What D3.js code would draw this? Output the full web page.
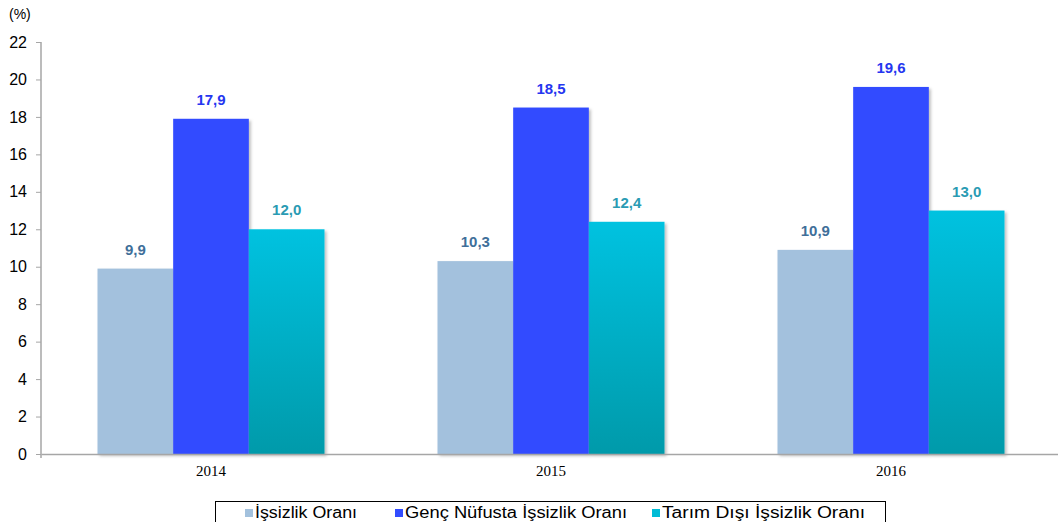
<!DOCTYPE html>
<html lang="tr">
<head>
<meta charset="UTF-8">
<title>İşsizlik Oranları</title>
<script src="https://d3js.org/d3.v7.min.js"></script>
<style>
  * { margin: 0; padding: 0; }
  body { background: #fff; }
</style>
</head>
<body>
<script>
var years = ["2014", "2015", "2016"];
var seriesNames = ["İşsizlik Oranı", "Genç Nüfusta İşsizlik Oranı", "Tarım Dışı İşsizlik Oranı"];
var issizlik = [9.9, 10.3, 10.9];
var genc = [17.9, 18.5, 19.6];
var tarimDisi = [12.0, 12.4, 13.0];
var yTicks = [0, 2, 4, 6, 8, 10, 12, 14, 16, 18, 20, 22];

var seriesValues = [issizlik, genc, tarimDisi];
var barColors = ["#a3c1dd", "#324cff", "url(#cyanGrad)"];
var legendColors = ["#a3c1dd", "#324cff", "#00bcd6"];
var labelColors = ["#3f6f9a", "#2536f0", "#2a9bb3"];

var sans = "'Liberation Sans', Arial, sans-serif";
var serif = "'Liberation Serif', 'Times New Roman', serif";

var width = 1058, height = 522;
var svg = d3.select("body").append("svg")
    .attr("width", width)
    .attr("height", height)
    .style("font-family", sans);

var defs = svg.append("defs");
var grad = defs.append("linearGradient")
    .attr("id", "cyanGrad")
    .attr("x1", 0).attr("y1", 0).attr("x2", 0).attr("y2", 1);
grad.append("stop").attr("offset", "0%").attr("stop-color", "#00c2e0");
grad.append("stop").attr("offset", "100%").attr("stop-color", "#009aaa");

var shadow = defs.append("filter").attr("id", "shadow")
    .attr("x", "-10%").attr("y", "-10%").attr("width", "130%").attr("height", "130%");
shadow.append("feDropShadow")
    .attr("dx", 2).attr("dy", 2).attr("stdDeviation", 1.5)
    .attr("flood-color", "#000").attr("flood-opacity", 0.25);

var x0 = 41, x1 = 1061, yBottom = 454, yTop = 42;

var x = d3.scaleBand().domain(years).range([x0, x1]).paddingInner(0).paddingOuter(0);
var xInner = d3.scaleBand().domain(d3.range(3)).range([0, 227]);
var groupOffset = (x.bandwidth() - 227) / 2;

var y = d3.scaleLinear().domain([0, 22]).range([yBottom, yTop]);

// bars
var groups = svg.selectAll(".grp")
    .data(years)
    .enter().append("g")
    .attr("class", "grp")
    .attr("transform", function (d) { return "translate(" + (x(d) + groupOffset) + ",0)"; });

groups.each(function (yr, i) {
    var g = d3.select(this);
    seriesValues.forEach(function (vals, s) {
        g.append("rect")
            .attr("x", xInner(s))
            .attr("y", y(vals[i]))
            .attr("width", xInner.bandwidth())
            .attr("height", yBottom - y(vals[i]))
            .attr("fill", barColors[s])
            .attr("filter", "url(#shadow)");
        g.append("text")
            .attr("x", xInner(s) + xInner.bandwidth() / 2)
            .attr("y", y(vals[i]) - 14)
            .attr("text-anchor", "middle")
            .attr("font-size", "15px")
            .attr("font-weight", "bold")
            .attr("fill", labelColors[s])
            .text(d3.format(".1f")(vals[i]).replace(".", ","));
    });
});

// y axis
var yAxis = d3.axisLeft(y).tickValues(yTicks).tickSize(5).tickPadding(9);
var yg = svg.append("g")
    .attr("transform", "translate(" + x0 + ",0)")
    .call(yAxis);
yg.select(".domain").attr("stroke", "#a6a6a6").attr("stroke-width", 1.5).attr("d", "M0," + yTop + "V" + (yBottom + 4));
yg.selectAll(".tick line").attr("stroke", "#a6a6a6");
yg.selectAll(".tick text")
    .attr("font-size", "16px")
    .attr("fill", "#000")
    .style("font-family", sans);

// x axis
var xAxis = d3.axisBottom(x).tickSize(0).tickPadding(11);
var xg = svg.append("g")
    .attr("transform", "translate(0," + yBottom + ")")
    .call(xAxis);
xg.select(".domain").attr("stroke", "#a6a6a6").attr("stroke-width", 1.5);
xg.selectAll(".tick text")
    .attr("font-size", "15px")
    .attr("fill", "#000")
    .style("font-family", serif);

svg.append("text")
    .attr("x", 9).attr("y", 19)
    .attr("font-size", "14px")
    .text("(%)");

// legend
var legend = svg.append("g");
legend.append("rect")
    .attr("x", 215.5).attr("y", 501.5)
    .attr("width", 670).attr("height", 30)
    .attr("fill", "#fff").attr("stroke", "#000").attr("stroke-width", 1);
var legendX = [245, 395, 652];
var legendW = [102, 222, 203];
seriesNames.forEach(function (name, s) {
    legend.append("rect")
        .attr("x", legendX[s]).attr("y", 509)
        .attr("width", 8).attr("height", 8)
        .attr("fill", legendColors[s]);
    legend.append("text")
        .attr("x", legendX[s] + 10).attr("y", 518)
        .attr("font-size", "16px")
        .attr("fill", "#000")
        .attr("textLength", legendW[s])
        .attr("lengthAdjust", "spacingAndGlyphs")
        .text(name);
});
</script>
</body>
</html>
